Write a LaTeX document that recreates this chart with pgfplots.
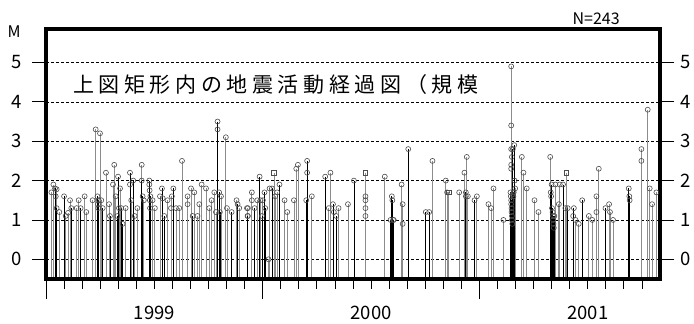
\documentclass[border=0pt]{standalone}
\usepackage{pgfplots}
\pgfplotsset{compat=1.18}
\usepackage{pgfplotstable}
\usepackage{fontspec}
\setmainfont{Noto Sans CJK JP}
\newfontfamily\jptitle[LetterSpace=22]{Noto Sans CJK JP}
\definecolor{stemgray}{HTML}{8C8C8C}

\pgfplotstableread{
t m
0.50 1.8
0.59 1.3
1.00 1.6
1.40 1.3
1.92 1.3
2.85 1.6
2.88 1.4
2.90 1.3
2.92 1.5
3.14 1.3
3.54 1.1
3.95 1.1
3.99 2.1
4.17 1.3
4.24 0.9
4.65 2.2
4.65 1.9
4.83 2.0
5.30 2.0
5.35 1.6
5.72 2.0
5.72 1.9
5.74 1.75
5.75 1.5
5.76 1.3
5.78 1.6
6.42 1.8
6.46 1.55
6.55 1.1
7.05 1.8
8.12 1.1
9.50 3.5
9.50 3.3
9.59 1.7
9.63 1.2
10.28 1.2
10.61 1.4
11.18 1.1
11.55 1.3
11.83 2.1
11.96 1.1
12.10 1.7
12.14 1.3
12.51 1.8
12.93 1.9
14.41 1.5
14.46 2.5
14.46 2.2
15.46 2.1
15.89 1.4
16.07 1.1
17.05 2.0
17.69 1.6
17.69 1.5
17.69 1.3
17.69 1.1
19.08 1.0
19.15 1.6
19.18 1.5
19.22 1.0
19.26 1.0
20.06 2.8
21.03 1.2
21.22 1.2
23.25 1.7
23.25 1.6
23.73 1.5
25.72 1.7
25.74 1.6
25.76 1.5
25.76 1.4
25.78 1.3
25.78 1.2
25.80 1.1
25.80 1.0
25.82 0.9
25.84 1.65
25.85 2.8
25.88 1.6
25.90 1.7
25.93 2.9
25.95 2.0
27.95 1.7
27.97 1.6
28.00 1.9
28.02 1.3
28.05 1.2
28.07 1.1
28.08 1.0
28.10 0.9
28.12 0.8
28.15 1.1
28.63 1.9
28.89 1.3
29.23 1.3
29.69 1.5
30.98 1.3
32.27 1.8
32.30 1.6
32.32 1.5
}\blackev

\pgfplotstableread{
t m
0.30 1.7
0.41 1.9
0.54 1.6
0.59 1.78
0.74 1.2
1.09 1.1
1.22 1.18
1.33 1.5
1.70 1.3
1.81 1.5
2.14 1.6
2.23 1.2
2.58 1.5
2.75 3.3
2.99 3.2
3.06 1.5
3.32 2.2
3.49 1.4
3.71 1.9
3.78 2.4
3.86 1.6
4.04 1.3
4.10 1.8
4.41 1.3
4.72 1.5
4.91 1.1
5.06 1.3
5.30 2.4
5.42 1.5
5.90 1.5
6.03 1.3
6.31 1.6
6.73 1.5
6.92 1.3
6.97 1.6
7.20 1.3
7.38 1.3
7.53 2.5
7.84 1.6
7.84 1.4
8.03 1.8
8.21 1.7
8.39 1.1
8.49 1.4
8.62 1.9
8.86 1.8
9.04 1.3
9.17 1.5
9.32 1.7
9.41 1.2
9.69 1.6
9.96 3.1
10.02 1.3
10.55 1.5
10.70 1.3
11.13 1.3
11.16 1.1
11.18 1.3
11.40 1.7
11.40 1.5
11.70 1.5
11.88 1.5
12.01 1.5
12.32 0.0
12.38 1.8
12.69 1.6
12.80 1.7
13.21 1.5
13.36 1.2
13.73 1.5
13.86 2.3
13.95 2.4
14.72 1.6
15.66 1.3
15.75 2.2
15.94 1.2
16.20 1.3
16.72 1.4
18.76 2.1
19.69 1.9
19.75 1.4
19.75 0.9
21.40 2.5
22.14 2.0
22.21 1.7
22.88 1.7
23.17 2.2
23.30 2.6
23.36 1.6
23.86 1.6
24.50 1.4
24.65 1.3
24.78 1.8
25.33 1.0
25.76 4.9
25.76 3.4
25.76 2.8
25.76 2.4
25.76 2.3
25.80 2.6
25.98 1.8
26.35 2.6
26.44 2.2
26.62 1.8
27.05 1.5
27.27 1.2
27.92 2.6
28.21 1.9
28.40 1.4
28.45 1.9
28.76 1.3
29.19 1.1
29.32 1.0
29.50 0.9
30.06 1.1
30.25 1.0
30.48 1.6
30.48 1.2
30.61 2.3
31.18 1.4
31.23 1.2
31.40 1.0
32.97 2.8
32.97 2.5
33.32 3.8
33.43 1.8
33.56 1.4
33.80 1.7
}\grayev

\pgfplotstableread{
t m
12.62 2.2
17.69 2.2
22.29 1.7
28.82 2.2
}\sqev

\begin{document}
\begin{tikzpicture}
\path[use as bounding box] (-46pt,-45pt) rectangle (648pt,279pt);
\pgfplotsset{
  common/.style={
    at={(0,0)}, anchor=south west, scale only axis,
    width=614pt, height=250pt,
    xmin=0, xmax=34, ymin=-0.5, ymax=5.85,
    tick align=outside,
    tick style={black, line width=0.8pt},
    /pgf/number format/assume math mode=true,
    tick label style={font=\fontsize{18.5}{20}\selectfont},
    clip=false,
  }
}
% grid + left ticks
\begin{axis}[common,
  hide x axis,
  ytick={0,...,5}, ytick pos=both, yticklabel pos=left,
  major tick length=14pt,
  ymajorgrids, grid style={black, line width=0.6pt, dash pattern=on 3pt off 2pt},
  yticklabel style={xshift=-7pt},
]
\end{axis}
% right labels
\begin{axis}[common,
  hide x axis,
  ytick={0,...,5}, ytick pos=right, yticklabel pos=right,
  major tick length=14pt,
  yticklabel style={xshift=3pt},
]
\end{axis}
% data + x ticks
\begin{axis}[common,
  ytick=\empty,
  xtick={0,12,24}, xticklabels={}, xtick pos=bottom,
  major tick length=20pt,
  minor xtick={1,...,33}, minor tick length=10pt,
  error bars/error mark=none,
]
\addplot[only marks, mark=o, mark size=2.5pt,
  mark options={draw=black!70, fill=white, line width=0.6pt},
  error bars/.cd, y dir=minus, y explicit,
  error bar style={stemgray, line width=0.8pt}]
  table[x=t, y=m, y error expr=\thisrow{m}+0.5] {\grayev};
\addplot[only marks, mark=o, mark size=2.5pt,
  mark options={draw=black!70, fill=white, line width=0.6pt},
  error bars/.cd, y dir=minus, y explicit,
  error bar style={black, line width=0.8pt}]
  table[x=t, y=m, y error expr=\thisrow{m}+0.5] {\blackev};
\addplot[only marks, mark=square, mark size=2.3pt,
  mark options={draw=black!70, fill=white, line width=0.6pt},
  error bars/.cd, y dir=minus, y explicit,
  error bar style={stemgray, line width=0.8pt}]
  table[x=t, y=m, y error expr=\thisrow{m}+0.5] {\sqev};
\draw[black, line width=3.2pt] (rel axis cs:0,0) rectangle (rel axis cs:1,1);
\node[anchor=west, font=\jptitle\fontsize{21}{24}\selectfont] at (axis cs:1.3,4.44) {上図矩形内の地震活動経過図（規模};
\node[font=\fontsize{18.5}{20}\selectfont] at (axis cs:6,-0.5) [yshift=-34pt] {1999};
\node[font=\fontsize{18.5}{20}\selectfont] at (axis cs:18,-0.5) [yshift=-34pt] {2000};
\node[font=\fontsize{18.5}{20}\selectfont] at (axis cs:30,-0.5) [yshift=-34pt] {2001};
\node[font=\fontsize{16}{18}\selectfont] at (rel axis cs:-0.052,0.988) {M};
\node[font=\fontsize{16}{18}\selectfont] at (rel axis cs:0.896,1.042) {N=243};
\end{axis}
\end{tikzpicture}
\end{document}
